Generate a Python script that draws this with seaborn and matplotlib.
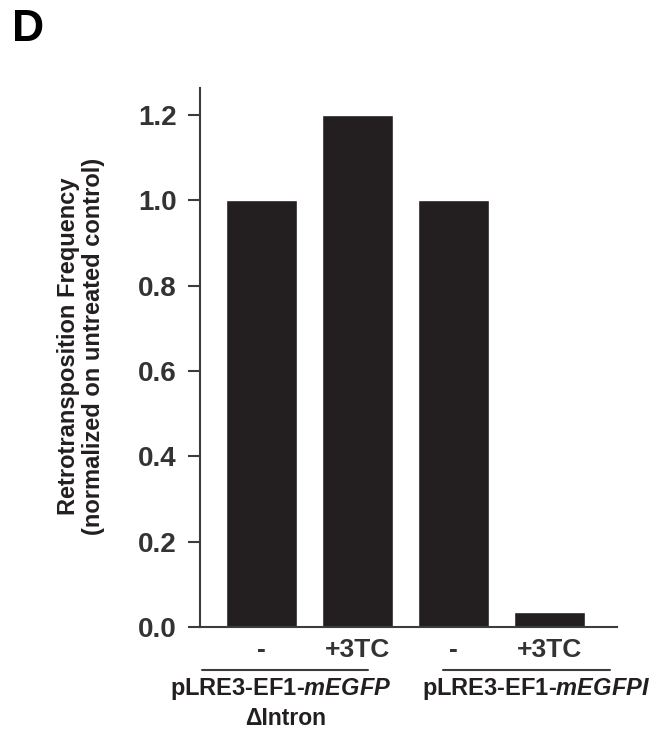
import seaborn as sns
import matplotlib.pyplot as plt
import pandas as pd

# Data
conditions = ["dIntron_ctrl", "dIntron_3TC", "I_ctrl", "I_3TC"]
treatments = ["-", "+3TC", "-", "+3TC"]
frequency = [1.0, 1.2, 1.0, 0.035]
y_ticks = [0.0, 0.2, 0.4, 0.6, 0.8, 1.0, 1.2]

df = pd.DataFrame({"condition": conditions, "treatment": treatments, "frequency": frequency})

sns.set_style("white")
plt.rcParams["font.family"] = ["Liberation Sans", "DejaVu Sans"]
plt.rcParams["font.weight"] = "bold"
plt.rcParams["axes.labelweight"] = "bold"
plt.rcParams["mathtext.fontset"] = "custom"
plt.rcParams["mathtext.it"] = "Liberation Sans:italic:bold"
plt.rcParams["mathtext.rm"] = "Liberation Sans:bold"

ink = "#231f20"
axis_col = "#3c3c3c"

fig = plt.figure(figsize=(6.63, 7.37), dpi=100)
ax = fig.add_axes([0.3017, 0.1493, 0.629, 0.7313])

sns.barplot(data=df, x="condition", y="frequency", color=ink, saturation=1,
            width=0.74, ax=ax)

ax.set_xlim(-0.64, 3.70)
ax.set_ylim(0, 1.263)
ax.set_yticks(y_ticks)
ax.set_yticklabels([f"{t:.1f}" for t in y_ticks], fontsize=20, color="#333333")
ax.set_xticks(range(len(conditions)))
ax.set_xticklabels(treatments, fontsize=19, color="#333333")
ax.tick_params(axis="y", length=8.6, width=1.5, color=axis_col, pad=8, left=True)
ax.tick_params(axis="x", length=0, pad=8)
ax.set_xlabel("")
ax.set_ylabel("Retrotransposition Frequency\n(normalized on untreated control)",
              fontsize=17, color=ink, linespacing=1.1)
ax.yaxis.set_label_coords(-0.229, 0.52)

sns.despine(ax=ax)
for s in ["left", "bottom"]:
    ax.spines[s].set_linewidth(1.5)
    ax.spines[s].set_color(axis_col)

# group brackets and labels below the axis
trans = ax.get_xaxis_transform()
ax.plot([-0.62, 1.11], [-0.080, -0.080], transform=trans, color=axis_col,
        lw=1.5, clip_on=False)
ax.plot([1.89, 3.63], [-0.080, -0.080], transform=trans, color=axis_col,
        lw=1.5, clip_on=False)
ax.text(0.20, -0.115, r"pLRE3-EF1-$\mathit{mEGFP}$", transform=trans,
        ha="center", va="center", fontsize=17, color=ink)
ax.text(0.25, -0.170, "\u0394Intron", transform=trans,
        ha="center", va="center", fontsize=16.5, color=ink)
ax.text(2.86, -0.115, r"pLRE3-EF1-$\mathit{mEGFPI}$", transform=trans,
        ha="center", va="center", fontsize=17, color=ink)

fig.text(0.018, 0.988, "D", fontsize=32, fontweight="bold", ha="left", va="top",
         color="black")

fig.savefig("out.png", dpi=100)
plt.close(fig)
